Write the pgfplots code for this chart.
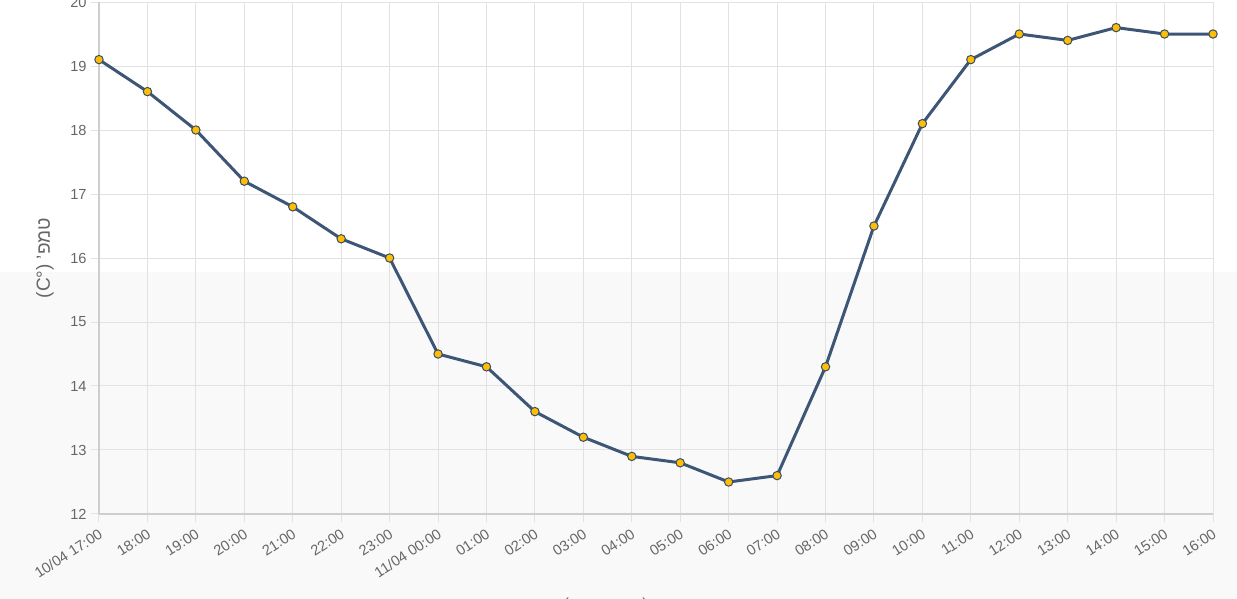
\documentclass[border=0pt]{standalone}
\usepackage{pgfplots}
\pgfplotsset{compat=1.18}
\usepackage{fontspec}
\setmainfont{Liberation Sans}
\TeXXeTstate=1
\definecolor{linec}{HTML}{3D5676}
\definecolor{markc}{HTML}{FFBF00}
\definecolor{gridc}{HTML}{E2E2E2}
\definecolor{txt}{HTML}{666666}
\definecolor{bgc}{HTML}{F9F9F9}
\begin{document}
\begin{tikzpicture}
\useasboundingbox (-49.5pt,-42.5pt) rectangle (569pt,257pt);
\fill[bgc] (-49.5pt,-42.5pt) rectangle (569pt,121pt);
\begin{axis}[
  scale only axis,
  width=557pt, height=256pt,
  xmin=0, xmax=23, ymin=12, ymax=20,
  ytick={12,13,...,20},
  xtick={0,...,23},
  xticklabels={10/04 17:00,18:00,19:00,20:00,21:00,22:00,23:00,11/04 00:00,01:00,02:00,03:00,04:00,05:00,06:00,07:00,08:00,09:00,10:00,11:00,12:00,13:00,14:00,15:00,16:00},
  axis x line*=bottom, axis y line*=left,
  grid=major,
  grid style={gridc, line width=0.5pt},
  axis line style={gridc!80!gray, line width=0.6pt},
  tick align=outside,
  major tick length=4pt,
  tick style={gridc, line width=0.5pt},
  tick label style={font=\fontsize{7.3}{8}\selectfont, text=txt},
  /pgf/number format/assume math mode=true,
  yticklabel style={inner sep=1pt, xshift=-1pt},
  xticklabel style={rotate=33, anchor=north east, inner sep=1pt, yshift=-1pt, xshift=-1pt},
  ylabel={(C°) \beginR טמפ'\endR},
  ylabel style={font=\fontsize{9.5}{11}\selectfont, text=txt, at={(axis description cs:-0.0485,0.5)}, anchor=center},
  xlabel={(\beginR שעון מקומי\endR) \beginR תאריך ושעה\endR},
  xlabel style={font=\fontsize{8}{10}\selectfont, text=txt, at={(axis description cs:0.5,0)}, anchor=north, yshift=-38.5pt, xshift=-3.5pt},
  clip=false,
]
\addplot[linec, line width=1.5pt, mark=*, mark size=2.1pt,
  mark options={fill=markc, draw=linec!90!black, line width=0.5pt}]
coordinates {
(0,19.1) (1,18.6) (2,18.0) (3,17.2) (4,16.8) (5,16.3) (6,16.0) (7,14.5)
(8,14.3) (9,13.6) (10,13.2) (11,12.9) (12,12.8) (13,12.5) (14,12.6)
(15,14.3) (16,16.5) (17,18.1) (18,19.1) (19,19.5) (20,19.4) (21,19.6)
(22,19.5) (23,19.5)
};
\end{axis}
\end{tikzpicture}
\end{document}
